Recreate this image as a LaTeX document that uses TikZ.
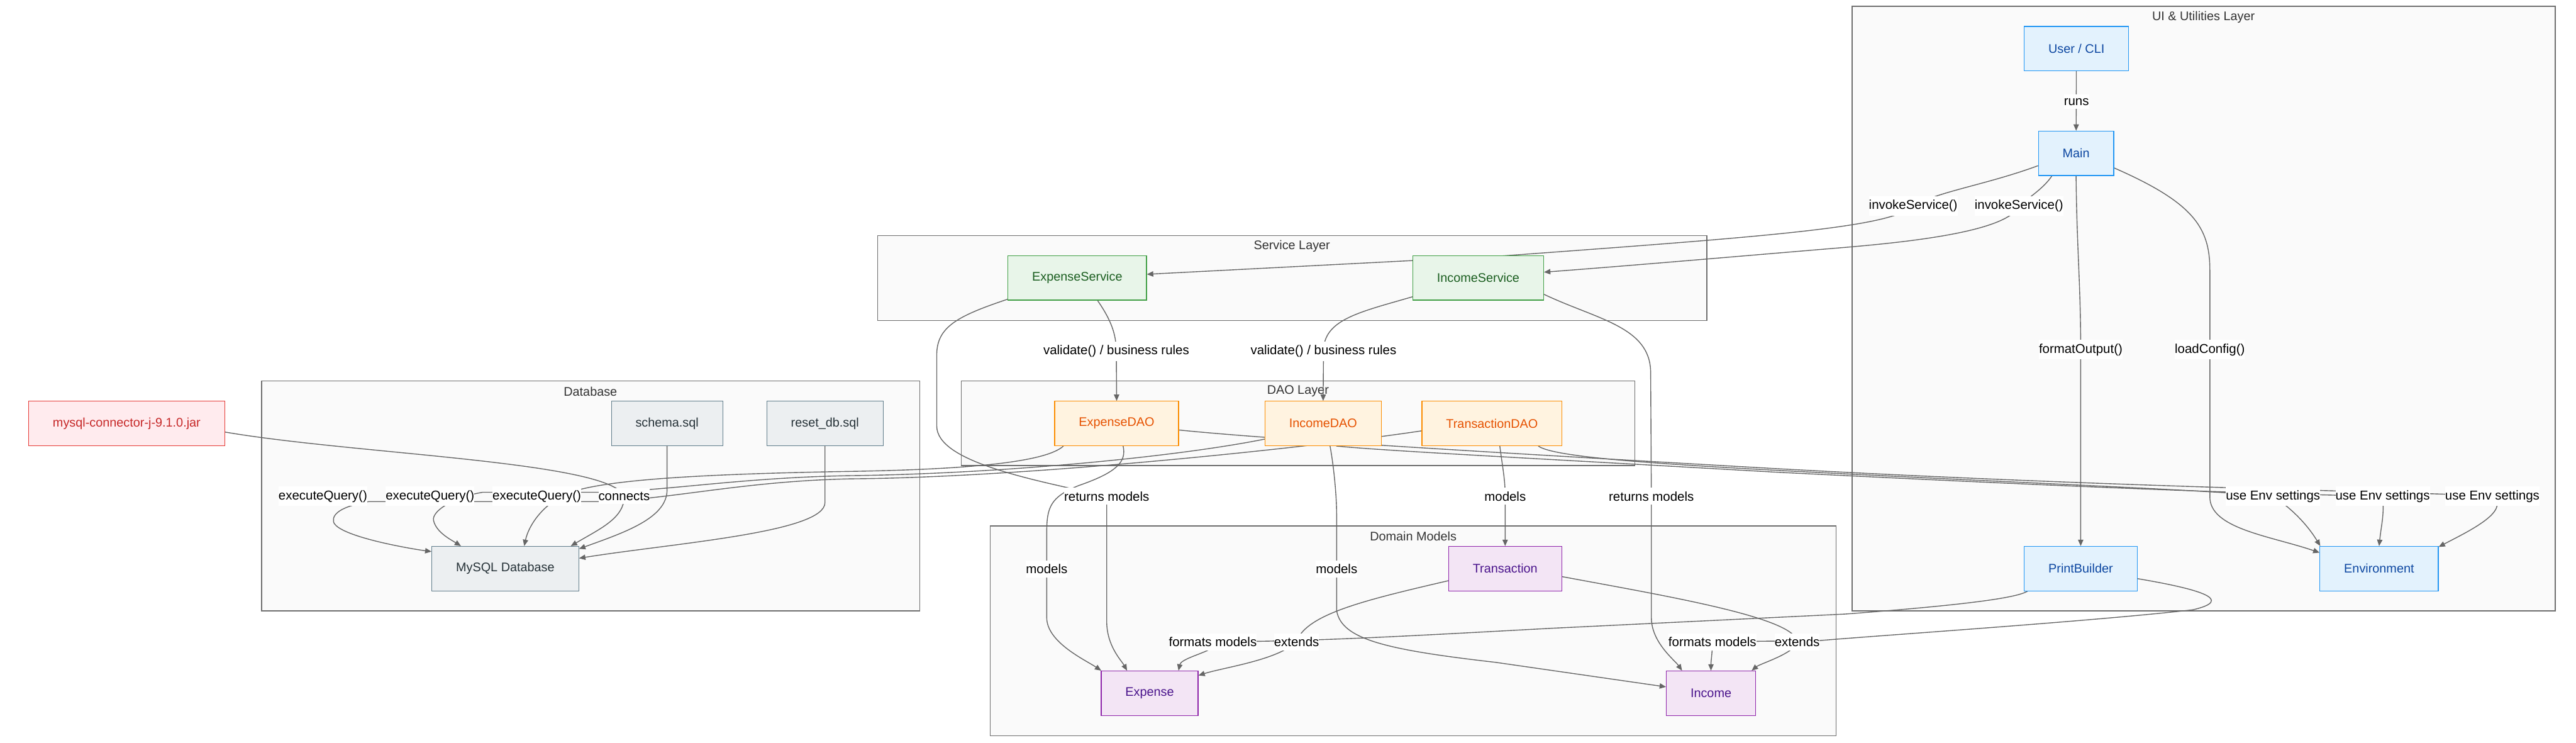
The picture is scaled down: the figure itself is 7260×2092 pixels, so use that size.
\documentclass[tikz,border=0pt]{standalone}
\usepackage{fontspec}
\setmainfont{Liberation Sans}
\usetikzlibrary{arrows.meta}
\definecolor{uifill}{HTML}{E3F2FD}
\definecolor{uiline}{HTML}{2196F3}
\definecolor{uitext}{HTML}{0D47A1}
\definecolor{svcfill}{HTML}{E8F5E9}
\definecolor{svcline}{HTML}{43A047}
\definecolor{svctext}{HTML}{1B5E20}
\definecolor{daofill}{HTML}{FFF3E0}
\definecolor{daoline}{HTML}{FB8C00}
\definecolor{daotext}{HTML}{E65100}
\definecolor{modfill}{HTML}{F3E5F5}
\definecolor{modline}{HTML}{8E24AA}
\definecolor{modtext}{HTML}{4A148C}
\definecolor{dbfill}{HTML}{ECEFF1}
\definecolor{dbline}{HTML}{607D8B}
\definecolor{dbtext}{HTML}{263238}
\definecolor{jarfill}{HTML}{FFEBEE}
\definecolor{jarline}{HTML}{E53935}
\definecolor{jartext}{HTML}{C62828}
\definecolor{grpfill}{HTML}{FAFAFA}
\definecolor{grpline}{HTML}{6E6E6E}
\definecolor{grptext}{HTML}{333333}
\definecolor{edgecol}{HTML}{666666}
\pgfdeclarelayer{bg}
\pgfdeclarelayer{edges}
\pgfsetlayers{bg,edges,main}
\begin{document}
\begin{tikzpicture}[x=0.01cm, y=-0.01cm,
        box/.style={rectangle, draw, line width=0.6pt, minimum height=1.25cm, inner xsep=0.68cm, font=\fontsize{10}{12}\selectfont},
        uibox/.style={box, draw=uiline, fill=uifill, text=uitext},
        svcbox/.style={box, draw=svcline, fill=svcfill, text=svctext},
        daobox/.style={box, draw=daoline, fill=daofill, text=daotext},
        modbox/.style={box, draw=modline, fill=modfill, text=modtext},
        dbbox/.style={box, draw=dbline, fill=dbfill, text=dbtext},
        jarbox/.style={box, draw=jarline, fill=jarfill, text=jartext},
        grp/.style={draw=grpline, fill=grpfill, line width=0.75pt},
        grptitle/.style={text=grptext, font=\fontsize{10}{12}\selectfont},
        lbl/.style={fill=white, inner xsep=0pt, inner ysep=3pt, font=\fontsize{10.3}{12}\selectfont},
        edge/.style={draw=edgecol, line width=0.7pt, -{Triangle[length=0.18cm, width=0.15cm]}}
    ]
    \useasboundingbox (0,0) rectangle (7260,2092);
    \begin{pgfonlayer}{bg}
    \fill[white] (0,0) rectangle (7260,2092);
    \draw[grp] (5220,18) rectangle (7201,1721);
    \draw[grp] (2473,664) rectangle (4810,903);
    \draw[grp] (737,1073) rectangle (2592,1721);
    \draw[grp] (2709,1073) rectangle (4607,1312);
    \draw[grp] (2791,1482) rectangle (5175,2073);
    \node[grptitle] (t-ui) at (6210,48) {UI \& Utilities Layer};
    \node[grptitle] (t-svc) at (3641,694) {Service Layer};
    \node[grptitle] (t-db) at (1664,1103) {Database};
    \node[grptitle] (t-dao) at (3658,1102) {DAO Layer};
    \node[grptitle] (t-mod) at (3983,1511) {Domain Models};
    \end{pgfonlayer}

    \node[uibox] (cli) at (5852,137) {User / CLI};
    \node[uibox] (main) at (5851,432) {Main};
    \node[uibox] (printb) at (5864,1602) {PrintBuilder};
    \node[uibox] (env) at (6705,1602) {Environment};
    \node[svcbox] (expsvc) at (3036,783) {ExpenseService};
    \node[svcbox] (incsvc) at (4166,783) {IncomeService};
    \node[daobox] (expdao) at (3147,1193) {ExpenseDAO};
    \node[daobox] (incdao) at (3729,1193) {IncomeDAO};
    \node[daobox] (trxdao) at (4205,1193) {TransactionDAO};
    \node[jarbox] (jar) at (357,1193) {mysql-connector-j-9.1.0.jar};
    \node[dbbox] (schema) at (1880,1193) {schema.sql};
    \node[dbbox] (reset) at (2325,1193) {reset\_db.sql};
    \node[dbbox] (mysql) at (1424,1602) {MySQL Database};
    \node[modbox] (trx) at (4242,1602) {Transaction};
    \node[modbox] (expense) at (3240,1953) {Expense};
    \node[modbox] (income) at (4822,1953) {Income};

    \node[lbl] (l-runs) at (5852,287) {runs};
    \node[lbl] (l-inv1) at (5392,580) {invokeService()};
    \node[lbl] (l-inv2) at (5690,580) {invokeService()};
    \node[lbl] (l-fmtout) at (5864,985) {formatOutput()};
    \node[lbl] (l-cfg) at (6228,985) {loadConfig()};
    \node[lbl] (l-val1) at (3146,990) {validate() / business rules};
    \node[lbl] (l-val2) at (3730,990) {validate() / business rules};
    \node[lbl] (l-ret1) at (3119,1398) {returns models};
    \node[lbl] (l-mod3) at (4242,1398) {models};
    \node[lbl] (l-ret2) at (4654,1398) {returns models};
    \node[lbl] (l-eq1) at (910,1398) {executeQuery()};
    \node[lbl] (l-eq2) at (1212,1398) {executeQuery()};
    \node[lbl] (l-eq3) at (1513,1398) {executeQuery()};
    \node[lbl] (l-con) at (1759,1398) {connects};
    \node[lbl] (l-env1) at (6406,1398) {use Env settings};
    \node[lbl] (l-env2) at (6715,1398) {use Env settings};
    \node[lbl] (l-env3) at (7024,1398) {use Env settings};
    \node[lbl] (l-mod1) at (2950,1603) {models};
    \node[lbl] (l-mod2) at (3767,1603) {models};
    \node[lbl] (l-fmt1) at (3418,1808) {formats models};
    \node[lbl] (l-ext1) at (3654,1808) {extends};
    \node[lbl] (l-fmt2) at (4826,1808) {formats models};
    \node[lbl] (l-ext2) at (5065,1808) {extends};

    \begin{pgfonlayer}{edges}
    \draw[edge] (cli) -- (main);
    \draw[edge] (main.198) .. controls (5600,520) and (5460,540) .. (l-inv1.center) .. controls (5330,640) and (5000,665) .. (4234,721) -- (expsvc.3);
    \draw[edge] (main.223) .. controls (5760,530) and (5720,555) .. (l-inv2.center) .. controls (5660,650) and (5400,680) .. (5200,697) .. controls (4900,722) and (4600,748) .. (incsvc.5);
    \draw[edge] (main.south) .. controls (5853,700) and (5864,800) .. (l-fmtout.center) -- (printb.north);
    \draw[edge] (main.339) .. controls (6180,570) and (6228,640) .. (6228,760) -- (6228,1400) .. controls (6228,1490) and (6400,1510) .. (env.165);
    \draw[edge] (expsvc.312) .. controls (3130,900) and (3146,940) .. (l-val1.center) -- (expdao.north);
    \draw[edge] (incsvc.196) .. controls (3830,880) and (3730,900) .. (l-val2.center) -- (incdao.north);
    \draw[edge] (expsvc.197) .. controls (2700,890) and (2640,920) .. (2640,1000) -- (2640,1200) .. controls (2640,1300) and (2900,1350) .. (l-ret1.center) .. controls (3119,1450) and (3119,1500) .. (3119,1600) -- (3119,1750) .. controls (3119,1820) and (3160,1860) .. (expense.135);
    \draw[edge] (expdao.286) .. controls (3175,1300) and (3150,1330) .. (3040,1368) .. controls (2960,1400) and (2950,1430) .. (2950,1500) -- (l-mod1.center) -- (2950,1740) .. controls (2950,1810) and (3060,1860) .. (expense.155);
    \draw[edge] (incdao.287) .. controls (3760,1320) and (3767,1400) .. (3767,1450) -- (l-mod2.center) -- (3767,1720) .. controls (3780,1800) and (3900,1830) .. (4215,1866) -- (income.172);
    \draw[edge] (trxdao.289) .. controls (4235,1320) and (4242,1350) .. (l-mod3.center) -- (trx.north);
    \draw[edge] (incsvc.346) .. controls (4500,900) and (4652,920) .. (4652,1050) -- (l-ret2.center) -- (4654,1740) .. controls (4654,1810) and (4720,1860) .. (income.142);
    \draw[edge] (trx.192) .. controls (3850,1690) and (3680,1730) .. (l-ext1.center) .. controls (3600,1860) and (3450,1880) .. (expense.20);
    \draw[edge] (trx.352) .. controls (4700,1680) and (5060,1740) .. (l-ext2.center) .. controls (5060,1840) and (4960,1870) .. (income.29);
    \draw[edge] (printb.203) .. controls (5690,1680) and (5600,1700) .. (5200,1730) -- (4374,1770) .. controls (4000,1790) and (3700,1808) .. (l-fmt1.center) .. controls (3450,1830) and (3330,1850) .. (expense.38);
    \draw[edge] (printb.350) .. controls (6200,1660) and (6300,1690) .. (6180,1718) .. controls (5900,1750) and (5300,1790) .. (5124,1805) -- (l-fmt2.center) .. controls (4826,1840) and (4822,1860) .. (income.north);
    \draw[edge] (trxdao.334) .. controls (4380,1290) and (4700,1310) .. (5200,1335) .. controls (5800,1365) and (6200,1380) .. (l-env1.center) .. controls (6470,1440) and (6510,1490) .. (env.159);
    \draw[edge] (incdao.300) .. controls (3900,1270) and (4300,1290) .. (5000,1330) .. controls (5800,1370) and (6300,1390) .. (l-env2.center) .. controls (6720,1450) and (6711,1480) .. (env.north);
    \draw[edge] (expdao.354) .. controls (3600,1240) and (4300,1280) .. (5000,1320) .. controls (6000,1375) and (6800,1385) .. (l-env3.center) .. controls (7080,1440) and (6950,1500) .. (env.20);
    \draw[edge] (expdao.203) .. controls (2950,1300) and (2750,1322) .. (2400,1328) .. controls (2000,1335) and (1700,1350) .. (1600,1390) .. controls (1530,1420) and (1490,1480) .. (mysql.50);
    \draw[edge] (incdao.195) .. controls (3300,1290) and (2800,1335) .. (2400,1340) .. controls (2100,1345) and (1900,1380) .. (1700,1387) -- (1360,1387) .. controls (1280,1400) and (1215,1440) .. (1222,1467) .. controls (1230,1500) and (1270,1520) .. (mysql.153);
    \draw[edge] (trxdao.186) .. controls (3700,1260) and (2900,1345) .. (2400,1349) .. controls (2100,1355) and (1900,1405) .. (1700,1413) -- (1040,1413) .. controls (970,1425) and (935,1445) .. (940,1470) .. controls (950,1510) and (1150,1545) .. (mysql.167);
    \draw[edge] (jar.355) .. controls (1000,1280) and (1720,1300) .. (l-con.center) .. controls (1760,1460) and (1690,1490) .. (mysql.19);
    \draw[edge] (schema.south) -- (1880,1380) .. controls (1880,1460) and (1760,1500) .. (mysql.15);
    \draw[edge] (reset.south) -- (2325,1416) .. controls (2325,1500) and (1900,1530) .. (mysql.8);
    \end{pgfonlayer}
\end{tikzpicture}
\end{document}
